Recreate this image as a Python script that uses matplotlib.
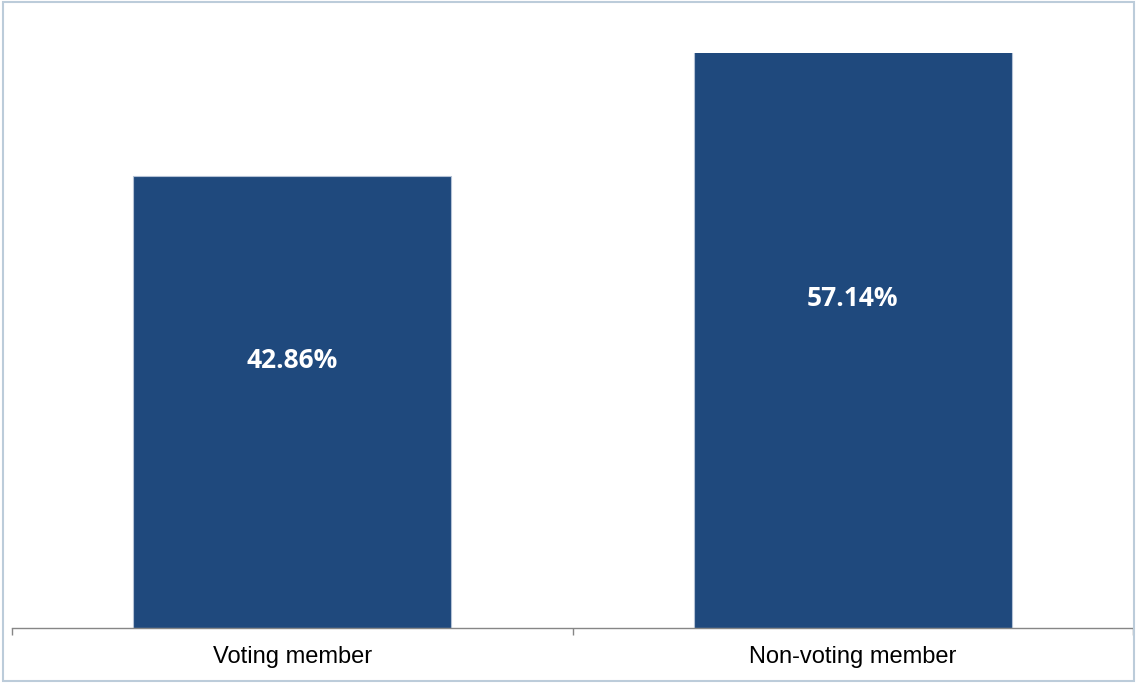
import matplotlib
matplotlib.use('Agg')
import matplotlib.pyplot as plt
from matplotlib.patches import Rectangle

# ── data ──
categories = ['Voting member', 'Non-voting member']
shares = [42.86, 57.14]
labels = ['42.86%', '57.14%']
y_max = 54.5   # value axis max (the second bar is clipped by it)

bar_color = '#1F497D'

fig = plt.figure(figsize=(11.36, 6.83), dpi=100)
ax = fig.add_axes([12 / 1136, 1 - 628 / 683, 1121 / 1136, 575 / 683])

x = list(range(len(categories)))
ax.bar(x, shares, width=0.567, color=bar_color, edgecolor='#B4C2D6', linewidth=0.8)
ax.set_xlim(-0.5, len(categories) - 0.5)
ax.set_ylim(0, y_max)

for xi, v, lab in zip(x, shares, labels):
    ax.annotate(lab, (xi, min(v, y_max) / 2), xytext=(0, 30), textcoords='offset points',
                ha='center', va='center', color='white', fontsize=19,
                fontweight='bold', family='Open Sans')

# ── axes styling ──
for s in ['top', 'right', 'left']:
    ax.spines[s].set_visible(False)
ax.spines['bottom'].set_color('#868686')
ax.spines['bottom'].set_linewidth(1.0)
ax.set_yticks([])
ax.set_xticks([i - 0.5 for i in range(len(categories) + 1)])
ax.set_xticklabels([])
ax.tick_params(axis='x', which='major', direction='out', length=5, color='#868686', width=1.0)
ax.set_xticks(x, minor=True)
ax.set_xticklabels(categories, minor=True, fontsize=17, family='Liberation Sans')
ax.tick_params(axis='x', which='minor', length=0, pad=13)
ax.patch.set_alpha(0)

# ── outer chart border ──
fig.patches.append(Rectangle((3 / 1136, 2 / 683), 1131 / 1136, 679 / 683,
                             transform=fig.transFigure, fill=False,
                             edgecolor='#BCCCDA', linewidth=1.5))

fig.savefig('out.png', dpi=100, facecolor='white')
plt.close(fig)
